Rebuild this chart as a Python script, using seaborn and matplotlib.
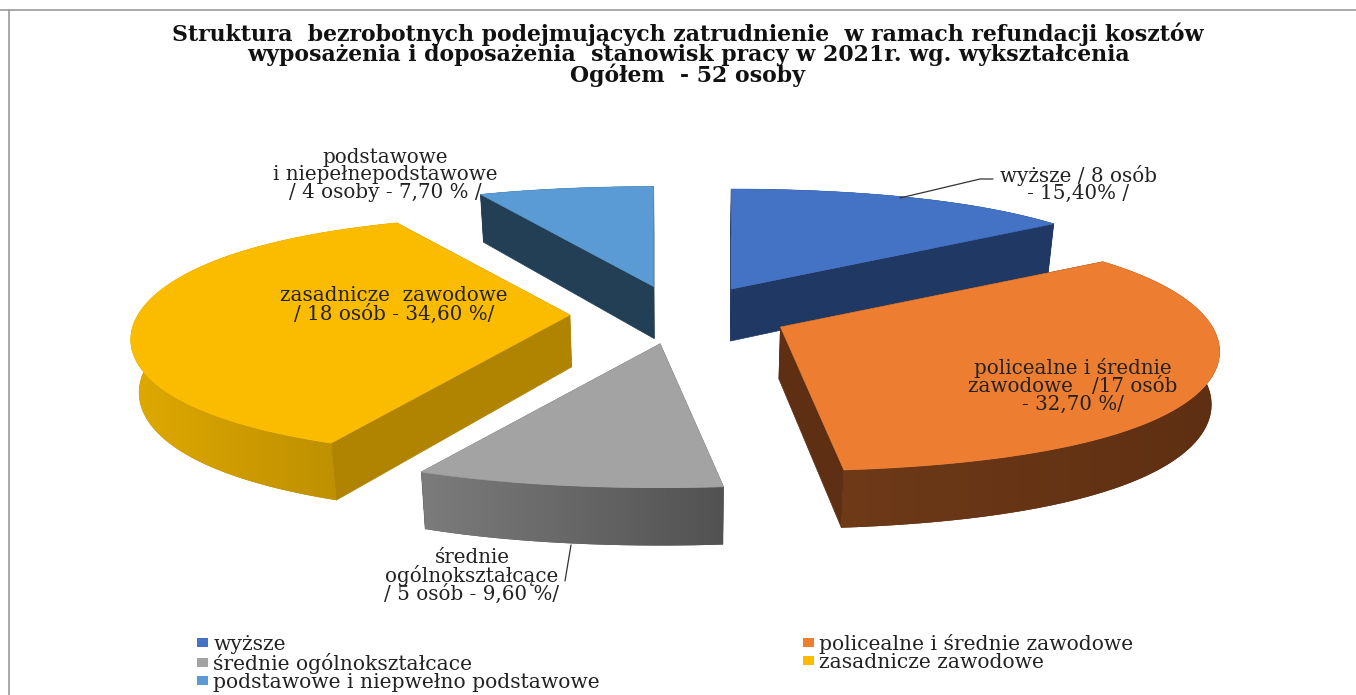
import numpy as np
import matplotlib
matplotlib.use("Agg")
import matplotlib.pyplot as plt
from matplotlib.colors import LinearSegmentedColormap
from matplotlib.patches import Patch, Polygon
import seaborn as sns

# ---- data ----
categories = ["wyższe", "policealne i średnie zawodowe", "średnie ogólnokształcace",
              "zasadnicze zawodowe", "podstawowe i niepwełno podstawowe"]
counts = [8, 17, 5, 18, 4]
top_colors = ["#4472C4", "#ED7D31", "#A3A3A3", "#FBBC00", "#5B9BD5"]
rim_left = ["#203864", "#6E3A18", "#7C7C7C", "#DFA900", "#223F55"]
rim_right = ["#203864", "#5F2F13", "#525252", "#B48800", "#223F55"]
cut_colors = ["#203864", "#5F2F13", "#6A6A6A", "#B08400", "#223F55"]
labels = ["wyższe / 8 osób\n- 15,40% /",
          "policealne i średnie\nzawodowe   /17 osób\n- 32,70 %/",
          "średnie\nogólnokształcące\n/ 5 osób - 9,60 %/",
          "zasadnicze  zawodowe\n/ 18 osób - 34,60 %/",
          "podstawowe\ni niepełnepodstawowe\n/ 4 osoby - 7,70 % /"]
title = ("Struktura  bezrobotnych podejmujących zatrudnienie  w ramach refundacji kosztów\n"
         "wyposażenia i doposażenia  stanowisk pracy w 2021r. wg. wykształcenia\n"
         "Ogółem  - 52 osoby")

# ---- layout ----
W, H = 1356, 695
CX, CY = 680, 315       # pie centre
A, B = 432, 118         # disk radii
BE = 115                # vertical scale of the explode shift
PX, PY = 0.18, 0.18     # perspective strength
PD = 0.10               # perspective of the extrusion depth
ROUND = 0.12            # squarer outline in the vertical direction
EXPLODE = 0.255
DEPTH = 52
SHRINK = 0.985
FONT = "DejaVu Serif"

sns.set_theme(style="white")
plt.rcParams["font.family"] = [FONT, "DejaVu Sans"]
fig = plt.figure(figsize=(W / 100, H / 100), dpi=100)
ax = fig.add_axes([0, 0, 1, 1])


def local(u, v):
    vy = v * (1 + ROUND * (1 - v ** 2))
    return A * u / (1 + PX * v), B * vy / (1 + PY * vy)


def bottom(x, y, v):
    return CX + (x - CX) * SHRINK, y + DEPTH / (1 + PD * v)


shares = np.asarray(counts, float) / sum(counts)
edges = np.concatenate([[0], np.cumsum(shares)]) * 2 * np.pi
draw_order = [0, 4, 3, 2, 1]

for n, i in enumerate(draw_order):
    base = 2 + n * 3
    a0, a1 = edges[i], edges[i + 1]
    mid = (a0 + a1) / 2
    ax0 = CX + A * EXPLODE * np.sin(mid)
    ay0 = CY - BE * EXPLODE * np.cos(mid)
    th = np.linspace(a0, a1, 200)
    u, v = np.sin(th), np.cos(th)
    dx, dy = local(u, v)
    rx, ry = ax0 + dx, ay0 - dy
    bx, by = bottom(rx, ry, v)
    apx_b, apy_b = bottom(ax0, ay0, 0)
    # flat cut faces
    for j in (0, -1):
        ax.add_patch(Polygon([(ax0, ay0), (rx[j], ry[j]), (bx[j], by[j]), (apx_b, apy_b)],
                             closed=True, fc=cut_colors[i], ec=cut_colors[i], lw=0.5, zorder=base))
    # curved rim: a horizontal gradient clipped to the rim outline
    rim = Polygon(np.column_stack([np.r_[rx, bx[::-1]], np.r_[ry, by[::-1]]]), closed=True,
                  fc=rim_right[i], ec="none", zorder=base + 1)
    ax.add_patch(rim)
    cmap = LinearSegmentedColormap.from_list("rim", [rim_left[i], rim_right[i]])
    img = ax.imshow(np.linspace(0, 1, 256)[None, :], cmap=cmap, aspect="auto",
                    extent=(min(rx.min(), bx.min()), max(rx.max(), bx.max()), by.max(), ry.min()),
                    zorder=base + 1, interpolation="bilinear")
    img.set_clip_path(rim)
    # top face
    ax.add_patch(Polygon(np.column_stack([np.r_[ax0, rx], np.r_[ay0, ry]]), closed=True,
                         fc=top_colors[i], ec=top_colors[i], lw=0.4, zorder=base + 2))

ax.set_xlim(0, W)
ax.set_ylim(H, 0)
ax.axis("off")

# frame lines
ax.plot([0, W], [10, 10], color="#9a9a9a", lw=1.2, zorder=1)
ax.plot([9, 9], [10, H], color="#9a9a9a", lw=1.2, zorder=1)

# title
ax.text(688, 55, title, ha="center", va="center", fontsize=15.8, fontweight="bold",
        color="#111111", linespacing=0.86, zorder=30)

# data labels
lab_pos = [(1078, 184), (1073, 386), (472, 576), (394, 305), (385, 175)]
for s, (x, y) in zip(labels, lab_pos):
    ax.text(x, y, s, ha="center", va="center", fontsize=14.3, color="#222222",
            linespacing=0.9, zorder=30)

# leader lines
ax.plot([900, 980, 993], [198, 179, 179], color="#333333", lw=0.9, zorder=29)
ax.plot([571, 565], [545, 581], color="#333333", lw=0.9, zorder=29)

# legend: rows read left to right
order = [0, 2, 4, 1, 3]
handles = [Patch(facecolor=top_colors[i], edgecolor="none", label=categories[i]) for i in order]
ax.legend(handles=handles, ncol=2, frameon=False, loc="lower left",
          bbox_to_anchor=(183 / W, 1 - 706 / H), prop={"family": FONT, "size": 14.6},
          handlelength=0.54, handleheight=0.37, handletextpad=0.25,
          labelspacing=-0.05, columnspacing=10, labelcolor="#222222", borderpad=0.2)

fig.savefig("out.png", dpi=100, facecolor="white")
